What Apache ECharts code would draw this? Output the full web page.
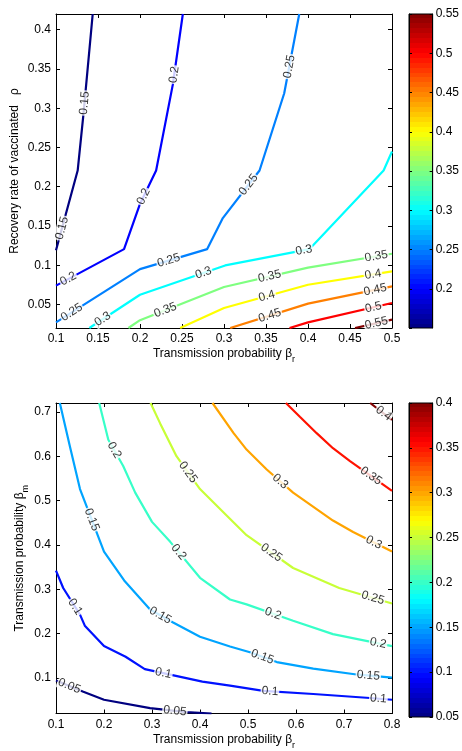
<!DOCTYPE html>
<html><head><meta charset="utf-8">
<script src="https://cdn.jsdelivr.net/npm/echarts@6/dist/echarts.min.js"></script>
<style>html,body{margin:0;padding:0;background:#fff}#c{width:462px;height:751px}</style>
</head><body><div id="c"></div>
<script>
// ---------------- data ----------------
// Top panel: x = transmission probability beta_r, y = recovery rate of vaccinated rho
const topLevels = [0.15, 0.2, 0.25, 0.3, 0.35, 0.4, 0.45, 0.5, 0.55];
const topC015 = [[0.1,0.119],[0.1258,0.2206],[0.1326,0.2915],[0.1437,0.42]];
const topC020 = [[0.1,0.074],[0.181,0.1205],[0.2,0.178],[0.2192,0.2206],[0.239,0.3297],[0.251,0.42]];
const topC025 = [[0.1,0.0272],[0.2,0.095],[0.28,0.1205],[0.2986,0.16],[0.3423,0.2206],[0.3717,0.319],[0.3896,0.42]];
const topC030 = [[0.1397,0.02],[0.2,0.0624],[0.3014,0.0997],[0.4019,0.1205],[0.49,0.2206],[0.5,0.2448]];
const topC035 = [[0.1862,0.02],[0.2,0.03],[0.3,0.0722],[0.4,0.097],[0.5,0.1146]];
const topC040 = [[0.2478,0.02],[0.3,0.0454],[0.4,0.0751],[0.5,0.0921]];
const topC045 = [[0.3074,0.02],[0.4,0.051],[0.5,0.073]];
const topC050 = [[0.378,0.02],[0.4,0.0272],[0.5,0.0518]];
const topC055 = [[0.456,0.02],[0.5,0.0306]];
// contour labels: [level, x, y]
const topLabels = [
  [0.15,0.1373,0.3063],[0.15,0.1068,0.1473],
  [0.2,0.1147,0.0824],[0.2,0.204,0.1876],[0.2,0.2426,0.3424],
  [0.25,0.1167,0.0433],[0.25,0.2339,0.107],[0.25,0.3292,0.2024],[0.25,0.378,0.353],
  [0.3,0.1564,0.0298],[0.3,0.2756,0.09],[0.3,0.395,0.1195],
  [0.35,0.2299,0.0433],[0.35,0.3542,0.0857],[0.35,0.4813,0.1112],
  [0.4,0.351,0.0603],[0.4,0.4774,0.0879],
  [0.45,0.3542,0.037],[0.45,0.4801,0.0679],
  [0.5,0.4781,0.0455],
  [0.55,0.4813,0.0272]
];
const topColorRange = [0.15, 0.55];

// Bottom panel: x = beta_r, y = beta_m
const botLevels = [0.05, 0.1, 0.15, 0.2, 0.25, 0.3, 0.35, 0.4];
const botC005 = [[0.1,0.0942],[0.157,0.069],[0.2,0.051],[0.296,0.032],[0.372,0.023],[0.424,0.02]];
const botC010 = [[0.1,0.342],[0.115,0.303],[0.15,0.243],[0.16,0.218],[0.2,0.172],[0.245,0.148],[0.285,0.12],[0.405,0.092],[0.4625,0.083],[0.532,0.071],[0.636,0.064],[0.754,0.055],[0.8,0.051]];
const botC015 = [[0.108,0.72],[0.129,0.622],[0.15,0.526],[0.2,0.385],[0.242,0.32],[0.296,0.2545],[0.344,0.225],[0.4,0.193],[0.4625,0.171],[0.504,0.158],[0.56,0.136],[0.636,0.121],[0.726,0.108],[0.8,0.101]];
const botC020 = [[0.19,0.72],[0.209,0.637],[0.24,0.578],[0.265,0.518],[0.3,0.452],[0.338,0.407],[0.4,0.326],[0.4625,0.277],[0.497,0.266],[0.594,0.229],[0.677,0.199],[0.8,0.172]];
const botC025 = [[0.297,0.72],[0.317,0.674],[0.351,0.6],[0.4,0.526],[0.456,0.466],[0.497,0.422],[0.594,0.348],[0.69,0.303],[0.8,0.268]];
const botC030 = [[0.426,0.72],[0.47,0.652],[0.497,0.615],[0.539,0.57],[0.594,0.518],[0.677,0.455],[0.719,0.429],[0.8,0.385]];
const botC035 = [[0.579,0.72],[0.608,0.689],[0.643,0.652],[0.677,0.618],[0.7125,0.589],[0.8,0.522]];
const botC040 = [[0.7545,0.72],[0.8,0.682]];
const botLabels = [
  [0.05,0.1256,0.0764],[0.05,0.348,0.0282],
  [0.1,0.136,0.258],[0.1,0.3236,0.1098],[0.1,0.5458,0.0712],[0.1,0.7715,0.0518],
  [0.15,0.1694,0.455],[0.15,0.3167,0.2398],[0.15,0.5285,0.1432],[0.15,0.7507,0.1062],
  [0.2,0.2229,0.6147],[0.2,0.3563,0.3846],[0.2,0.5528,0.2472],[0.2,0.7715,0.1804],
  [0.25,0.3778,0.5663],[0.25,0.551,0.386],[0.25,0.76,0.2806],
  [0.3,0.565,0.5405],[0.3,0.761,0.403],
  [0.35,0.754,0.552],
  [0.4,0.782,0.696]
];
const botColorRange = [0.05, 0.4];

// axis ranges / tick labels
const topX = {min: 0.1, max: 0.5, step: 0.05};
const topY = {min: 0.02, max: 0.42, step: 0.05};
const botX = {min: 0.1, max: 0.8, step: 0.1};
const botY = {min: 0.02, max: 0.72, step: 0.1};

const topContours = [topC015, topC020, topC025, topC030, topC035, topC040, topC045, topC050, topC055];
const botContours = [botC005, botC010, botC015, botC020, botC025, botC030, botC035, botC040];

// ---------------- helpers ----------------
const FONT = 'Liberation Sans, Arial, Helvetica, sans-serif';
function clamp(v){ return Math.max(0, Math.min(1, v)); }
function jet(t){
  t = clamp(t);
  const r = clamp(Math.min(4*t-1.5, -4*t+4.5));
  const g = clamp(Math.min(4*t-0.5, -4*t+3.5));
  const b = clamp(Math.min(4*t+0.5, -4*t+2.5));
  return 'rgb(' + Math.round(r*255) + ',' + Math.round(g*255) + ',' + Math.round(b*255) + ')';
}
function levelColor(v, range){ return jet((v - range[0]) / (range[1] - range[0])); }
function jetGradient(){
  const stops = [];
  const n = 64;
  for (let i = 0; i < n; i++) {
    const c = jet((i + 0.5) / n);
    stops.push({offset: i / n, color: c});
    stops.push({offset: (i + 1) / n, color: c});
  }
  return new echarts.graphic.LinearGradient(0, 1, 0, 0, stops);
}

const axLine = {show: true, onZero: false, lineStyle: {color: '#000', width: 1}};
const axTick = {show: true, inside: true, length: 4, lineStyle: {color: '#000', width: 1}};
const lblStyle = {color: '#000', fontSize: 12, fontFamily: FONT};

function richName(){
  return {
    color: '#000', fontSize: 12, fontFamily: FONT,
    rich: { s: {fontSize: 9, fontFamily: FONT, color: '#000', lineHeight: 10, padding: [12, 0, 0, 0]} }
  };
}

function xAxes(grid, r, name){
  return [
    {gridIndex: grid, type: 'value', position: 'bottom', min: r.min, max: r.max, interval: r.step,
     axisLine: axLine, axisTick: axTick, splitLine: {show: false},
     axisLabel: Object.assign({margin: 5}, lblStyle),
     name: name, nameLocation: 'middle', nameGap: 20, nameTextStyle: richName(), nameMoveOverlap: false},
    {gridIndex: grid, type: 'value', position: 'top', min: r.min, max: r.max, interval: r.step,
     axisLine: axLine, axisTick: axTick, splitLine: {show: false}, axisLabel: {show: false}}
  ];
}
function yAxes(grid, r, name, gap, nameStyle){
  return [
    {gridIndex: grid, type: 'value', position: 'left', min: r.min, max: r.max,
     splitNumber: Math.round((r.max - r.min) / r.step), minInterval: r.step, maxInterval: r.step,
     axisLine: axLine, axisTick: axTick, splitLine: {show: false},
     axisLabel: Object.assign({margin: 5, showMinLabel: false, showMaxLabel: false}, lblStyle),
     name: name, nameLocation: 'middle', nameGap: gap, nameTextStyle: nameStyle, nameMoveOverlap: false},
    {gridIndex: grid, type: 'value', position: 'right', min: r.min, max: r.max,
     splitNumber: Math.round((r.max - r.min) / r.step), minInterval: r.step, maxInterval: r.step,
     axisLine: axLine, axisTick: axTick, splitLine: {show: false}, axisLabel: {show: false}}
  ];
}
function cbarAxes(grid, range, showMin){
  return {
    x: {gridIndex: grid, type: 'value', min: 0, max: 1, show: false},
    y: [
      {gridIndex: grid, type: 'value', position: 'right', min: range[0], max: range[1], interval: 0.05,
       axisLine: axLine, axisTick: {show: true, inside: true, length: 3, lineStyle: {color: '#000'}},
       splitLine: {show: false},
       axisLabel: Object.assign({margin: 3, showMinLabel: showMin, showMaxLabel: true}, lblStyle)},
      {gridIndex: grid, type: 'value', position: 'left', min: range[0], max: range[1], interval: 0.05,
       axisLine: axLine, axisTick: {show: true, inside: true, length: 3, lineStyle: {color: '#000'}},
       splitLine: {show: false}, axisLabel: {show: false}}
    ]
  };
}

const xName = 'Transmission probability β{s|r}';
const topCb = cbarAxes(1, topColorRange, false);
const botCb = cbarAxes(3, botColorRange, true);

const xAxis = [].concat(
  xAxes(0, topX, xName),            // 0,1
  [topCb.x],                        // 2
  xAxes(2, botX, xName),            // 3,4
  [botCb.x]                         // 5
);
const yAxis = [].concat(
  yAxes(0, topY, 'Recovery rate of vaccinated   ρ', 34, {color: '#000', fontSize: 12, fontFamily: FONT, lineHeight: 14}), // 0,1
  topCb.y,                          // 2,3
  yAxes(2, botY, 'Transmission probability β{s|m}', 30, richName()), // 4,5
  botCb.y                           // 6,7
);

const grid = [
  {left: 56, top: 14, width: 336, height: 314, show: false},
  {left: 409, top: 14, width: 25, height: 314, show: true, backgroundColor: jetGradient(), borderColor: '#000', borderWidth: 1},
  {left: 56, top: 403, width: 336, height: 314, show: false},
  {left: 409, top: 403, width: 25, height: 314, show: true, backgroundColor: jetGradient(), borderColor: '#000', borderWidth: 1}
];

function lineSeries(contours, levels, range, xi, yi, prefix){
  return contours.map(function(pts, i){
    const col = levelColor(levels[i], range);
    return {
      id: prefix + i, type: 'line', xAxisIndex: xi, yAxisIndex: yi,
      data: pts, showSymbol: false, symbol: 'none', smooth: false, clip: true, silent: true,
      lineStyle: {color: col, width: 2.2}, itemStyle: {color: col}, z: 2, animation: false
    };
  });
}

const series = [].concat(
  lineSeries(topContours, topLevels, topColorRange, 0, 0, 'tc'),
  lineSeries(botContours, botLevels, botColorRange, 3, 4, 'bc'),
  [{id: 'topLab', type: 'scatter', xAxisIndex: 0, yAxisIndex: 0, data: [], z: 5},
   {id: 'botLab', type: 'scatter', xAxisIndex: 3, yAxisIndex: 4, data: [], z: 5}]
);

const chart = echarts.init(document.getElementById('c'), null, {renderer: 'canvas'});
chart.setOption({
  animation: false,
  backgroundColor: '#fff',
  textStyle: {fontFamily: FONT},
  grid: grid, xAxis: xAxis, yAxis: yAxis, series: series
});

// snap each label onto its contour line (in pixel space) and rotate it along the line
function buildLabels(labels, contours, levels, xi, yi){
  const finder = {xAxisIndex: xi, yAxisIndex: yi};
  return labels.map(function(l){
    const idx = levels.findIndex(function(v){ return Math.abs(v - l[0]) < 1e-9; });
    const poly = contours[idx].map(function(p){ return chart.convertToPixel(finder, p); });
    const p = chart.convertToPixel(finder, [l[1], l[2]]);
    let best = null;
    for (let i = 0; i < poly.length - 1; i++) {
      const a = poly[i], b = poly[i+1];
      const vx = b[0]-a[0], vy = b[1]-a[1];
      const L = vx*vx + vy*vy;
      let t = L > 0 ? ((p[0]-a[0])*vx + (p[1]-a[1])*vy) / L : 0;
      t = Math.max(0, Math.min(1, t));
      const q = [a[0]+t*vx, a[1]+t*vy];
      const d = Math.hypot(p[0]-q[0], p[1]-q[1]);
      if (!best || d < best.d) best = {d: d, q: q, ang: Math.atan2(-vy, vx) * 180 / Math.PI};
    }
    let ang = best.ang;
    if (ang > 90) ang -= 180;
    if (ang < -90) ang += 180;
    return {
      name: String(l[0]),
      value: chart.convertFromPixel(finder, best.q),
      label: {rotate: ang}
    };
  });
}
const labelCommon = {
  type: 'scatter', symbolSize: 1, itemStyle: {color: 'rgba(0,0,0,0)'}, silent: true,
  label: {show: true, position: 'inside', formatter: '{b}', color: '#000', fontSize: 12, fontFamily: FONT,
          backgroundColor: '#fff', padding: [0, 1], lineHeight: 12}
};
chart.setOption({
  series: [
    Object.assign({id: 'topLab', data: buildLabels(topLabels, topContours, topLevels, 0, 0)}, labelCommon),
    Object.assign({id: 'botLab', data: buildLabels(botLabels, botContours, botLevels, 3, 4)}, labelCommon)
  ]
});
</script>
</body></html>
